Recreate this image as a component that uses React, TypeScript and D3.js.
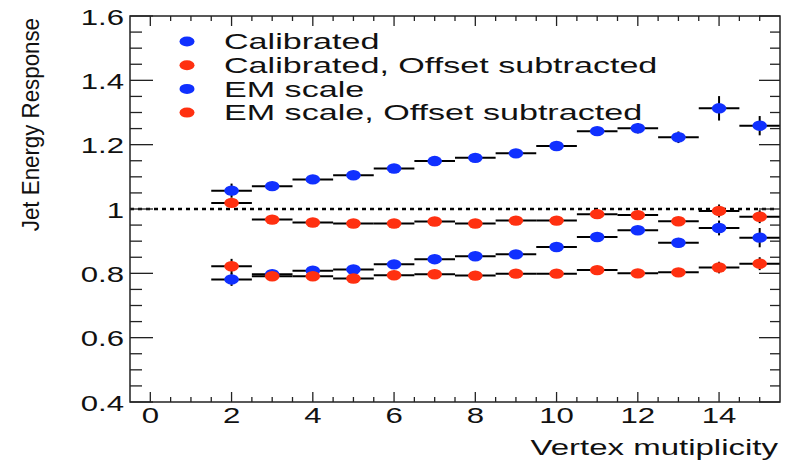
import React, { useEffect, useRef } from 'react'
import * as d3 from 'd3'

// vertex multiplicity bins
const multiplicity = [2, 3, 4, 5, 6, 7, 8, 9, 10, 11, 12, 13, 14, 15]

const calibrated = [1.057, 1.071, 1.092, 1.105, 1.126, 1.149, 1.159, 1.173, 1.196, 1.242, 1.251, 1.223, 1.313, 1.259]
const calibratedErr = [0.022, 0.012, 0.01, 0.01, 0.01, 0.01, 0.01, 0.01, 0.01, 0.012, 0.016, 0.018, 0.038, 0.03]

const calibratedOffset = [1.019, 0.967, 0.958, 0.955, 0.955, 0.961, 0.955, 0.964, 0.964, 0.984, 0.981, 0.962, 0.994, 0.976]
const calibratedOffsetErr = [0.012, 0.01, 0.01, 0.01, 0.01, 0.01, 0.01, 0.01, 0.01, 0.01, 0.012, 0.012, 0.02, 0.02]

const emScale = [0.781, 0.797, 0.808, 0.812, 0.828, 0.844, 0.853, 0.859, 0.882, 0.913, 0.934, 0.895, 0.941, 0.911]
const emScaleErr = [0.02, 0.01, 0.01, 0.01, 0.01, 0.01, 0.01, 0.01, 0.01, 0.012, 0.012, 0.015, 0.023, 0.03]

const emScaleOffset = [0.822, 0.791, 0.791, 0.784, 0.794, 0.797, 0.793, 0.799, 0.799, 0.81, 0.8, 0.803, 0.818, 0.83]
const emScaleOffsetErr = [0.023, 0.01, 0.01, 0.01, 0.01, 0.01, 0.01, 0.01, 0.01, 0.01, 0.01, 0.012, 0.018, 0.02]

const xTicks = [0, 2, 4, 6, 8, 10, 12, 14]
const yTicks = [0.4, 0.6, 0.8, 1, 1.2, 1.4, 1.6]

const BLUE = '#1030ff'
const RED = '#ff3010'

const series = [
  { name: 'Calibrated', values: calibrated, errors: calibratedErr, color: BLUE },
  { name: 'Calibrated, Offset subtracted', values: calibratedOffset, errors: calibratedOffsetErr, color: RED },
  { name: 'EM scale', values: emScale, errors: emScaleErr, color: BLUE },
  { name: 'EM scale, Offset subtracted', values: emScaleOffset, errors: emScaleOffsetErr, color: RED },
]

const W = 785
const H = 461
const left = 130, right = 780, top = 16, bottom = 402
const FONT = '"Liberation Sans", Arial, sans-serif'

export default function App() {
  const ref = useRef<SVGSVGElement>(null)

  useEffect(() => {
    const svg = d3.select(ref.current)
    svg.selectAll('*').remove()

    const x = d3.scaleLinear().domain([-0.5, 15.5]).range([left, right])
    const y = d3.scaleLinear().domain([0.4, 1.6]).range([bottom, top])

    // reference line at 1
    svg.append('line')
      .attr('x1', left).attr('x2', right - 4)
      .attr('y1', y(1)).attr('y2', y(1))
      .attr('stroke', '#000').attr('stroke-width', 2.5)
      .attr('stroke-dasharray', '4,4')

    // points with error bars
    series.forEach(s => {
      const g = svg.append('g')
      multiplicity.forEach((m, i) => {
        const v = s.values[i]
        const e = s.errors[i]
        g.append('line')
          .attr('x1', x(m - 0.5)).attr('x2', x(m + 0.5))
          .attr('y1', y(v)).attr('y2', y(v))
          .attr('stroke', '#000').attr('stroke-width', 2)
        g.append('line')
          .attr('x1', x(m)).attr('x2', x(m))
          .attr('y1', y(v - e)).attr('y2', y(v + e))
          .attr('stroke', '#000').attr('stroke-width', 2)
        g.append('ellipse')
          .attr('cx', x(m)).attr('cy', y(v))
          .attr('rx', 7.3).attr('ry', 5.2)
          .attr('fill', s.color)
      })
    })

    // frame
    svg.append('rect')
      .attr('x', left).attr('y', top)
      .attr('width', right - left).attr('height', bottom - top)
      .attr('fill', 'none').attr('stroke', '#222').attr('stroke-width', 1.5)

    const ticks = svg.append('g').attr('stroke', '#222').attr('stroke-width', 1.3)

    // x ticks (bottom and top)
    d3.range(0, 31).map(k => k * 0.5).forEach(t => {
      const major = t % 2 === 0
      const len = major ? 10 : 5
      ticks.append('line').attr('x1', x(t)).attr('x2', x(t))
        .attr('y1', bottom).attr('y2', bottom - len)
      ticks.append('line').attr('x1', x(t)).attr('x2', x(t))
        .attr('y1', top).attr('y2', top + len)
    })

    // y ticks (left and right)
    d3.range(0, 25).map(k => 0.4 + k * 0.05).forEach((t, k) => {
      const major = k % 4 === 0
      ticks.append('line').attr('x1', left).attr('x2', left + (major ? 23 : 12))
        .attr('y1', y(t)).attr('y2', y(t))
      ticks.append('line').attr('x1', right).attr('x2', right - (major ? 21 : 10))
        .attr('y1', y(t)).attr('y2', y(t))
    })

    const stretched = (tx: number, ty: number, s: number) =>
      `translate(${tx},${ty}) scale(${s},1)`

    // y tick labels
    yTicks.forEach(t => {
      svg.append('text')
        .attr('transform', stretched(124, y(t) + 8.5, 1.45))
        .attr('text-anchor', 'end')
        .attr('font-family', FONT).attr('font-size', 21.5)
        .attr('fill', '#111')
        .text(d3.format('')(t))
    })

    // x tick labels
    xTicks.forEach(t => {
      svg.append('text')
        .attr('transform', stretched(x(t), 423, 1.45))
        .attr('text-anchor', 'middle')
        .attr('font-family', FONT).attr('font-size', 21.5)
        .attr('fill', '#111')
        .text(t)
    })

    // axis titles
    svg.append('text')
      .attr('transform', stretched(778, 455, 1.5))
      .attr('text-anchor', 'end')
      .attr('font-family', FONT).attr('font-size', 22)
      .attr('fill', '#111')
      .text('Vertex mutiplicity')

    svg.append('text')
      .attr('transform', 'translate(39,18) scale(1.1,1) rotate(-90)')
      .attr('text-anchor', 'end')
      .attr('font-family', FONT).attr('font-size', 22.3)
      .attr('fill', '#111')
      .text('Jet Energy Response')

    // legend
    series.forEach((s, i) => {
      const ly = 41.5 + i * 23.7
      svg.append('ellipse')
        .attr('cx', 187).attr('cy', ly)
        .attr('rx', 7.5).attr('ry', 5)
        .attr('fill', s.color)
      svg.append('text')
        .attr('transform', stretched(224, ly + 7.6, 1.55))
        .attr('font-family', FONT).attr('font-size', 22)
        .attr('fill', '#111')
        .text(s.name)
    })
  }, [])

  return (
    <svg ref={ref} width={W} height={H}
      style={{ position: 'absolute', left: 0, top: 0, background: '#fff' }} />
  )
}
